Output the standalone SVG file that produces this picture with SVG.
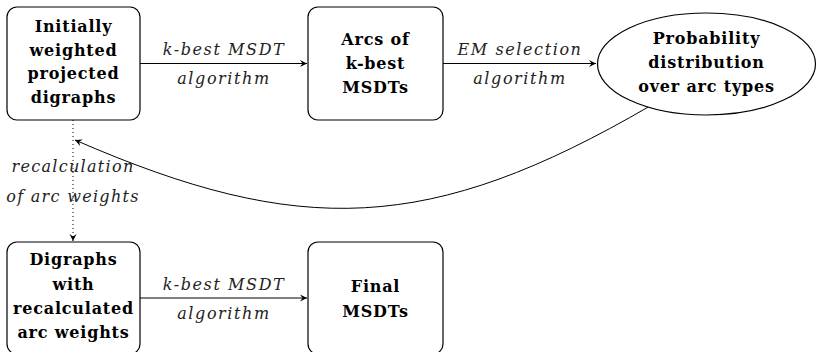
<svg xmlns="http://www.w3.org/2000/svg" width="817" height="352" viewBox="0 0 817 352">
<style>
.box{fill:#fff;stroke:#000;stroke-width:1.2}
.t{font-family:"DejaVu Serif",serif;font-weight:bold;font-size:16px;letter-spacing:0.8px;text-anchor:middle;fill:#000}
.l{font-family:"DejaVu Serif",serif;font-style:italic;font-size:16px;letter-spacing:1.6px;text-anchor:middle;fill:#222}
.l2{letter-spacing:1.3px}
.c{fill:none;stroke:#000;stroke-width:1}
</style>
<defs>
<marker id="ah" viewBox="-8 -4 9 8" refX="0" refY="0" markerWidth="9" markerHeight="8" markerUnits="userSpaceOnUse" orient="auto">
<path d="M0,0 L-7,-3.5 L-4.5,0 L-7,3.5 Z" fill="#000"/>
</marker>
</defs>
<g id="connectors">
<line class="c" x1="140" y1="63.5" x2="307" y2="63.5" marker-end="url(#ah)"/>
<line class="c" x1="443" y1="63.5" x2="596" y2="63.5" marker-end="url(#ah)"/>
<line class="c" x1="140" y1="298" x2="307" y2="298" marker-end="url(#ah)"/>
<line class="c" x1="73" y1="120" x2="73" y2="241" stroke-dasharray="1 3" marker-end="url(#ah)"/>
<path class="c" d="M650,106 C430,234 300,238 75,140" marker-end="url(#ah)"/>
<text class="l" x="224" y="55">k-best MSDT</text>
<text class="l" x="224" y="84">algorithm</text>
<text class="l" x="520" y="55">EM selection</text>
<text class="l" x="520" y="84">algorithm</text>
<text class="l" x="224" y="290">k-best MSDT</text>
<text class="l" x="224" y="319">algorithm</text>
<text class="l l2" x="73" y="172">recalculation</text>
<text class="l l2" x="73" y="202">of arc weights</text>
</g>
<g id="n1">
<rect class="box" x="7" y="7" width="133" height="113" rx="10"/>
<text class="t" x="73.5" y="32">Initially</text>
<text class="t" x="73.5" y="55.5">weighted</text>
<text class="t" x="73.5" y="79">projected</text>
<text class="t" x="73.5" y="102.5">digraphs</text>
</g>
<g id="n2">
<rect class="box" x="308" y="7" width="135" height="113" rx="10"/>
<text class="t" x="375.5" y="45">Arcs of</text>
<text class="t" x="375.5" y="69">k-best</text>
<text class="t" x="375.5" y="93">MSDTs</text>
</g>
<g id="n3">
<ellipse class="box" cx="706.5" cy="64" rx="109" ry="51"/>
<text class="t" x="706.5" y="44">Probability</text>
<text class="t" x="706.5" y="68">distribution</text>
<text class="t" x="706.5" y="92">over arc types</text>
</g>
<g id="n4">
<rect class="box" x="7" y="242" width="133" height="112" rx="10"/>
<text class="t" x="73.5" y="265">Digraphs</text>
<text class="t" x="73.5" y="289.5">with</text>
<text class="t" x="73.5" y="314">recalculated</text>
<text class="t" x="73.5" y="338">arc weights</text>
</g>
<g id="n5">
<rect class="box" x="308" y="242" width="135" height="112" rx="10"/>
<text class="t" x="375.5" y="292">Final</text>
<text class="t" x="375.5" y="317">MSDTs</text>
</g>
</svg>
